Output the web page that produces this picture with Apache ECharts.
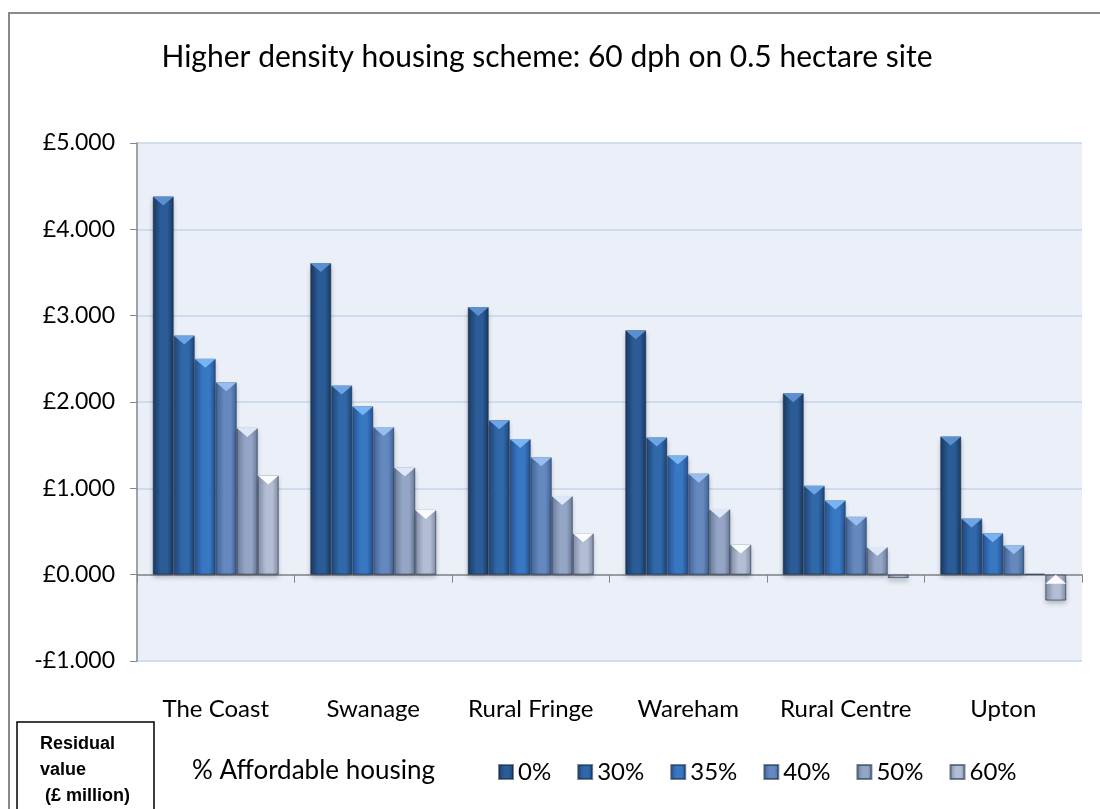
<!DOCTYPE html>
<html>
<head>
<meta charset="utf-8">
<title>Higher density housing scheme</title>
<script src="https://cdn.jsdelivr.net/npm/echarts/dist/echarts.min.js"></script>
<style>
  html, body { margin: 0; padding: 0; background: #fff; }
  #chart { width: 1100px; height: 809px; }
</style>
</head>
<body>
<div id="chart"></div>
<script>
// residual values, £ million
const places = ['The Coast', 'Swanage', 'Rural Fringe', 'Wareham', 'Rural Centre', 'Upton']
const shares = ['0%', '30%', '35%', '40%', '50%', '60%']
const aff0 = [4.38, 3.61, 3.10, 2.83, 2.10, 1.60]
const aff30 = [2.77, 2.19, 1.79, 1.59, 1.03, 0.65]
const aff35 = [2.50, 1.95, 1.57, 1.38, 0.86, 0.48]
const aff40 = [2.23, 1.71, 1.36, 1.17, 0.67, 0.34]
const aff50 = [1.70, 1.24, 0.91, 0.76, 0.32, 0.01]
const aff60 = [1.15, 0.75, 0.48, 0.35, -0.04, -0.30]
const values = [aff0, aff30, aff35, aff40, aff50, aff60]

// edge, middle, cap colours for each band
const looks = [
  ['#1a3b63', '#2c5c97', '#5f92d2'],
  ['#1f477a', '#3068aa', '#72a6e8'],
  ['#255499', '#3878c2', '#7db6f4'],
  ['#42669b', '#6588bf', '#9cc0f0'],
  ['#6d7e9b', '#95a5c6', '#e2ebfa'],
  ['#838ea7', '#b3bdd3', '#ffffff']
]

const shade = (c) => ({
  type: 'linear', x: 0, y: 0, x2: 1, y2: 0,
  colorStops: [
    { offset: 0, color: c[0] },
    { offset: 0.4, color: c[1] },
    { offset: 0.7, color: c[1] },
    { offset: 1, color: c[0] }
  ]
})

const series = []
values.forEach((vals, i) => {
  series.push({
    name: shares[i],
    type: 'bar',
    barCategoryGap: '20%',
    barGap: '0%',
    data: vals,
    itemStyle: {
      color: shade(looks[i]),
      borderColor: 'rgba(15,35,65,0.55)',
      borderWidth: 1,
      shadowBlur: 5,
      shadowColor: 'rgba(0,0,0,0.28)',
      shadowOffsetY: 3
    },
    z: 2
  })
})
// the light chevron on top of each bar
values.forEach((vals, i) => {
  series.push({
    name: shares[i] + ' cap',
    type: 'pictorialBar',
    barCategoryGap: '20%',
    barGap: '0%',
    symbol: 'path://M0,0L2,0L1,1Z',
    symbolSize: ['100%', 9],
    silent: true,
    z: 3,
    itemStyle: { color: looks[i][2], opacity: 0.95 },
    data: vals.map(v => Math.abs(v) < 0.1 ? '-' : { value: v, symbolPosition: v >= 0 ? 'end' : 'start' })
  })
})

const chart = echarts.init(document.getElementById('chart'))
chart.setOption({
  animation: false,
  backgroundColor: '#ffffff',
  title: {
    text: 'Higher density housing scheme: 60 dph on 0.5 hectare site',
    left: 542,
    top: 37,
    textAlign: 'center',
    textStyle: { fontFamily: 'Lato', fontSize: 30, fontWeight: 'normal', color: '#000' }
  },
  legend: {
    data: shares,
    left: 498,
    top: 760,
    padding: 0,
    icon: 'rect',
    itemWidth: 14,
    itemHeight: 14,
    itemGap: 26,
    textStyle: { fontFamily: 'Lato', fontSize: 24, color: '#000' }
  },
  grid: {
    left: 137,
    right: 18,
    top: 143,
    bottom: 148,
    show: true,
    backgroundColor: '#ebf0f8',
    borderWidth: 0
  },
  xAxis: [
    {
      type: 'category',
      data: places,
      position: 'bottom',
      axisLine: { show: false, onZero: false },
      axisTick: { show: false },
      axisLabel: { interval: 0, margin: 36, fontFamily: 'Lato', fontSize: 24, color: '#000' }
    },
    {
      type: 'category',
      data: places,
      position: 'top',
      axisLine: { show: true, onZero: true, lineStyle: { color: '#868686', width: 1.5 } },
      axisTick: { show: true, inside: true, length: 8, lineStyle: { color: '#868686' } },
      axisLabel: { show: false }
    }
  ],
  yAxis: {
    type: 'value',
    min: -1,
    max: 5,
    interval: 1,
    axisLine: { show: true, lineStyle: { color: '#868686', width: 1.5 } },
    axisTick: { show: true, length: 7, lineStyle: { color: '#868686' } },
    splitLine: { lineStyle: { color: '#c6d6ea', width: 1.5 } },
    axisLabel: {
      margin: 22,
      fontFamily: 'Lato',
      fontSize: 23,
      color: '#000',
      formatter: v => (v < 0 ? '-£' : '£') + Math.abs(v).toFixed(3)
    }
  },
  graphic: [
    {
      type: 'rect',
      shape: { x: 9, y: 13, width: 1100, height: 820 },
      style: { fill: 'none', stroke: '#8a8a8a', lineWidth: 2 },
      silent: true
    },
    {
      type: 'text',
      left: 192,
      top: 758,
      style: { text: '% Affordable housing', fontFamily: 'Lato', fontSize: 26, fill: '#000' }
    },
    {
      type: 'rect',
      shape: { x: 17, y: 722, width: 137, height: 100 },
      style: { fill: '#fff', stroke: '#000', lineWidth: 1.5 }
    },
    {
      type: 'text',
      left: 40,
      top: 731,
      style: {
        text: 'Residual\nvalue\n (£ million)',
        fontFamily: 'Liberation Sans',
        fontWeight: 'bold',
        fontSize: 18,
        lineHeight: 26,
        fill: '#000'
      }
    }
  ],
  series: series
})
</script>
</body>
</html>
